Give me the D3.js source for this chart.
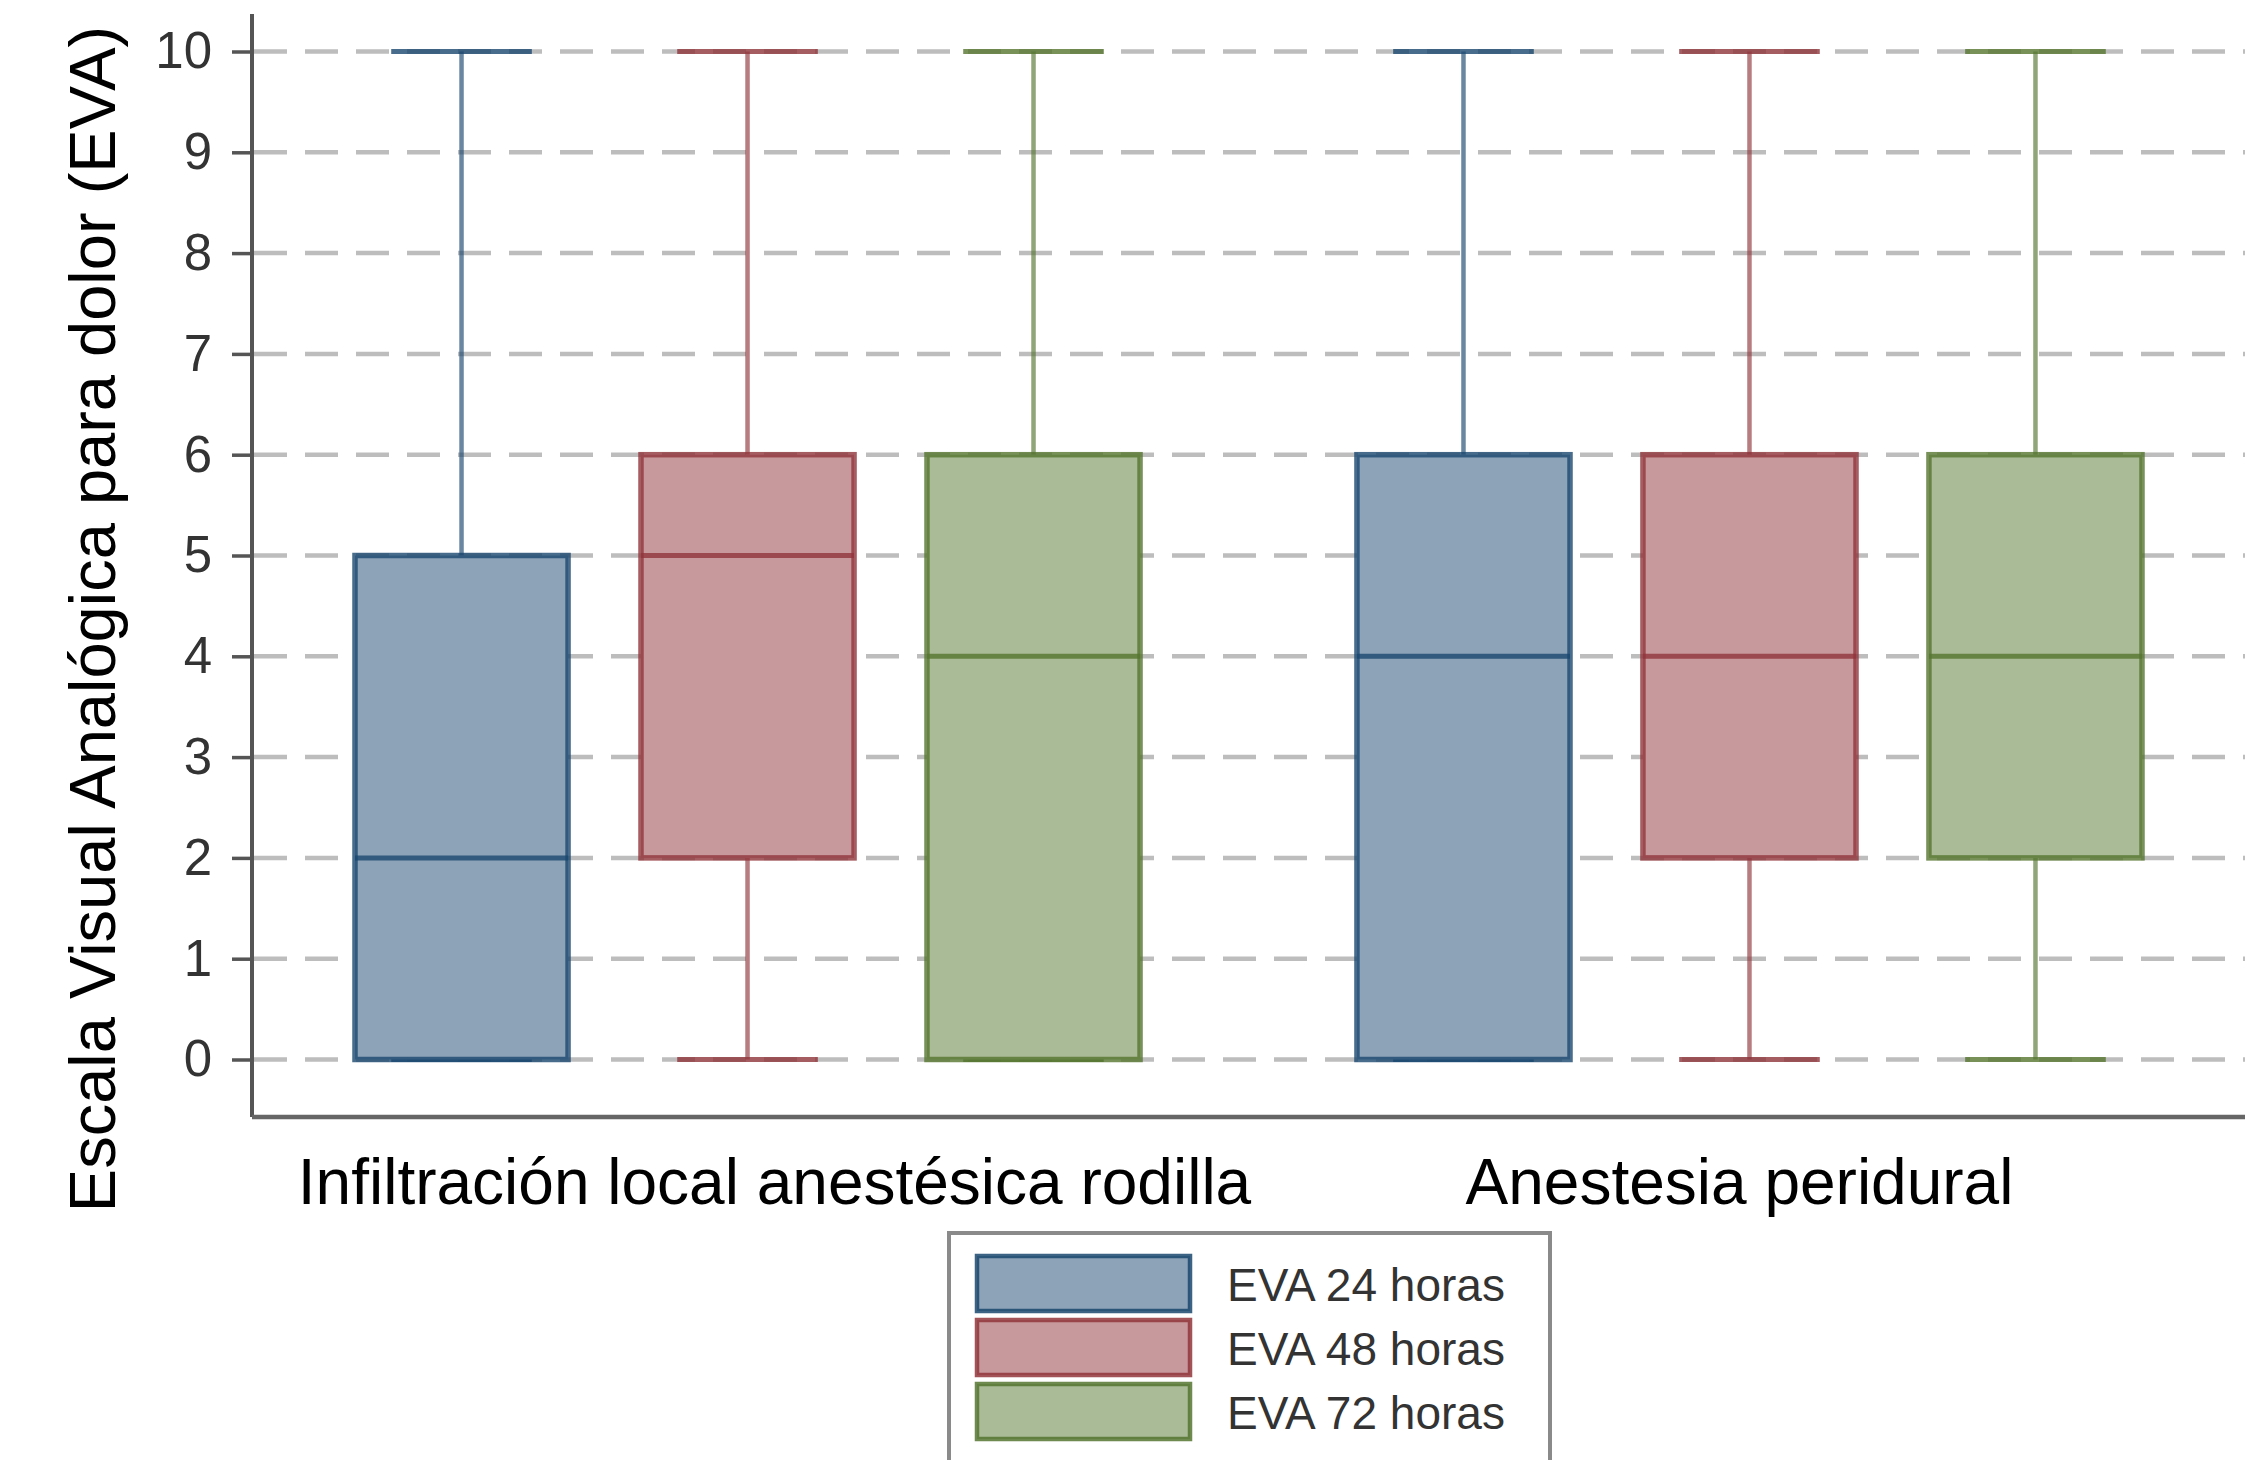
<!DOCTYPE html>
<html>
<head>
<meta charset="utf-8">
<script src="https://cdn.jsdelivr.net/npm/d3@7"></script>
<style>
  html, body { margin: 0; padding: 0; background: #ffffff; }
  svg { display: block; }
  text { font-family: "Liberation Sans", Arial, sans-serif; }
</style>
</head>
<body>
<svg id="chart" width="2245" height="1460"></svg>
<script>
// ---- data ----
const groups = ["Infiltración local anestésica rodilla", "Anestesia peridural"];
const series = ["EVA 24 horas", "EVA 48 horas", "EVA 72 horas"];
// per group, per series
const lowerWhisker = [[0, 0, 0], [0, 0, 0]];
const q1Values     = [[0, 2, 0], [0, 2, 2]];
const medianValues = [[2, 5, 4], [4, 4, 4]];
const q3Values     = [[5, 6, 6], [6, 6, 6]];
const upperWhisker = [[10, 10, 10], [10, 10, 10]];
const yTicks = [0, 1, 2, 3, 4, 5, 6, 7, 8, 9, 10];
const yTitle = "Escala Visual Analógica para dolor (EVA)";

// ---- styles ----
const strokeColors = ["#1a476f", "#90353b", "#55752f"];
const fillColors   = ["#8da3b7", "#c8999c", "#aabb98"];
const labelShift   = [27, -10];

const W = 2245, H = 1460;
const plot = { left: 252, right: 2245, top: 14, bottom: 1117 };

const svg = d3.select("#chart");

const y = d3.scaleLinear().domain([0, 10]).range([1059.5, 51.5]);

const xGroup = d3.scaleBand()
  .domain(groups)
  .range([plot.left, plot.right])
  .paddingInner(0.1437)
  .paddingOuter(0.0664);

const xSeries = d3.scaleBand()
  .domain(series)
  .range([0, xGroup.bandwidth()])
  .paddingInner(0.255)
  .paddingOuter(0.1275);

// gridlines
svg.append("g").selectAll("line")
  .data(yTicks)
  .join("line")
  .attr("x1", plot.left + 2)
  .attr("x2", plot.right)
  .attr("y1", d => y(d))
  .attr("y2", d => y(d))
  .attr("stroke", "#bdbdbd")
  .attr("stroke-width", 4.5)
  .attr("stroke-dasharray", "33,18");

// y axis
const yAxis = d3.axisLeft(y).tickValues(yTicks).tickSize(20).tickPadding(20);
const yg = svg.append("g").attr("transform", `translate(${plot.left},0)`).call(yAxis);
yg.select(".domain").remove();
yg.selectAll(".tick line").attr("stroke", "#555").attr("stroke-width", 3.5);
yg.selectAll(".tick text")
  .attr("font-size", 51)
  .attr("fill", "#333")
  .attr("font-family", "Liberation Sans, Arial, sans-serif");

// axis lines
svg.append("line")
  .attr("x1", plot.left).attr("x2", plot.left)
  .attr("y1", plot.top).attr("y2", plot.bottom)
  .attr("stroke", "#555").attr("stroke-width", 4);
svg.append("line")
  .attr("x1", plot.left).attr("x2", plot.right)
  .attr("y1", plot.bottom).attr("y2", plot.bottom)
  .attr("stroke", "#666").attr("stroke-width", 4.5);

// boxes
const boxData = [];
groups.forEach((g, gi) => {
  series.forEach((s, si) => {
    boxData.push({
      g, s, si,
      lo: lowerWhisker[gi][si], q1: q1Values[gi][si], med: medianValues[gi][si],
      q3: q3Values[gi][si], hi: upperWhisker[gi][si]
    });
  });
});

const bw = xSeries.bandwidth();
const capW = bw * 0.66;

const boxes = svg.append("g").selectAll("g.box")
  .data(boxData)
  .join("g")
  .attr("class", "box")
  .attr("transform", d => `translate(${xGroup(d.g) + xSeries(d.s)},0)`);

// whiskers
boxes.append("line")
  .attr("x1", bw / 2).attr("x2", bw / 2)
  .attr("y1", d => y(d.q3)).attr("y2", d => y(d.hi))
  .attr("stroke", d => strokeColors[d.si]).attr("stroke-width", 4.5).attr("stroke-opacity", 0.65);
boxes.append("line")
  .attr("x1", bw / 2).attr("x2", bw / 2)
  .attr("y1", d => y(d.q1)).attr("y2", d => y(d.lo))
  .attr("stroke", d => strokeColors[d.si]).attr("stroke-width", 4.5).attr("stroke-opacity", 0.65);
// caps
boxes.append("line")
  .attr("x1", (bw - capW) / 2).attr("x2", (bw + capW) / 2)
  .attr("y1", d => y(d.hi)).attr("y2", d => y(d.hi))
  .attr("stroke", d => strokeColors[d.si]).attr("stroke-width", 5).attr("stroke-opacity", 0.8);
boxes.append("line")
  .attr("x1", (bw - capW) / 2).attr("x2", (bw + capW) / 2)
  .attr("y1", d => y(d.lo)).attr("y2", d => y(d.lo))
  .attr("stroke", d => strokeColors[d.si]).attr("stroke-width", 5).attr("stroke-opacity", 0.8);
// box rect
boxes.append("rect")
  .attr("x", 0).attr("width", bw)
  .attr("y", d => y(d.q3)).attr("height", d => y(d.q1) - y(d.q3))
  .attr("fill", (d) => fillColors[d.si])
  .attr("stroke", d => strokeColors[d.si]).attr("stroke-width", 5.5).attr("stroke-opacity", 0.8);
// median
boxes.append("line")
  .attr("x1", 0).attr("x2", bw)
  .attr("y1", d => y(d.med)).attr("y2", d => y(d.med))
  .attr("stroke", d => strokeColors[d.si]).attr("stroke-width", 5).attr("stroke-opacity", 0.8);

// group labels
svg.append("g").selectAll("text")
  .data(groups)
  .join("text")
  .attr("x", (d, i) => xGroup(d) + xGroup.bandwidth() / 2 + labelShift[i])
  .attr("y", 1204)
  .attr("text-anchor", "middle")
  .attr("font-size", 64)
  .attr("fill", "#000")
  .text(d => d);

// y title
svg.append("text")
  .attr("transform", `translate(115,619) rotate(-90)`)
  .attr("text-anchor", "middle")
  .attr("font-size", 65)
  .attr("fill", "#000")
  .text(yTitle);

// legend
const legend = svg.append("g").attr("transform", "translate(949,1233)");
legend.append("rect")
  .attr("x", 0).attr("y", 0).attr("width", 601).attr("height", 260)
  .attr("fill", "#fff").attr("stroke", "#8a8a8a").attr("stroke-width", 4);
const items = legend.selectAll("g.item").data(series).join("g")
  .attr("class", "item")
  .attr("transform", (d, i) => `translate(0,${23 + i * 64})`);
items.append("rect")
  .attr("x", 28).attr("y", 0).attr("width", 213).attr("height", 55)
  .attr("fill", (d, i) => fillColors[i])
  .attr("stroke", (d, i) => strokeColors[i]).attr("stroke-width", 4.5).attr("stroke-opacity", 0.85);
items.append("text")
  .attr("x", 278).attr("y", 45)
  .attr("font-size", 46)
  .attr("fill", "#333")
  .text(d => d);
</script>
</body>
</html>
